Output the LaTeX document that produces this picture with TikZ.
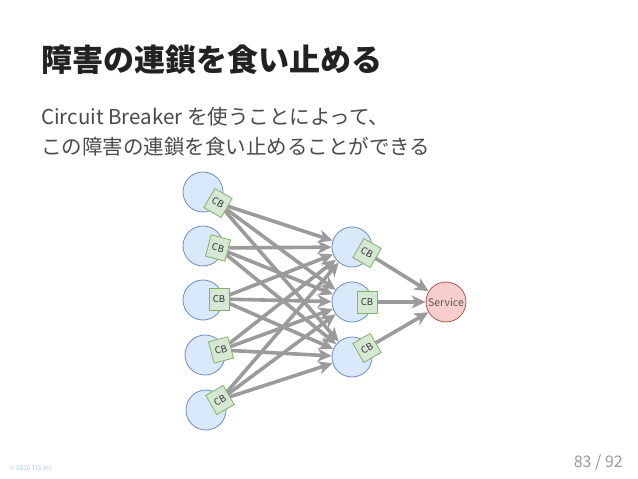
\documentclass[tikz,border=0pt]{standalone}
\usepackage{fontspec}
\setmainfont{Noto Sans CJK JP}
\usetikzlibrary{arrows.meta}
\definecolor{cfill}{HTML}{DAE8FC}
\definecolor{cdraw}{HTML}{6C8EBF}
\definecolor{bfill}{HTML}{D5E8D4}
\definecolor{bdraw}{HTML}{82B366}
\definecolor{sfill}{HTML}{F8CECC}
\definecolor{sdraw}{HTML}{B85450}
\definecolor{arr}{HTML}{9B9B9B}
\definecolor{titlec}{HTML}{222222}
\definecolor{bodyc}{HTML}{4A4A4A}
\definecolor{copyc}{HTML}{A6D2E2}
\definecolor{pagec}{HTML}{9A9A9A}
\tikzset{
  svcnode/.style={circle, draw=cdraw, fill=cfill, line width=0.8pt, minimum size=40pt, inner sep=0pt},
  cbbox/.style={rectangle, draw=bdraw, fill=bfill, line width=0.8pt, minimum width=20pt, minimum height=22pt, inner sep=0pt, font=\fontsize{9.5}{10}\selectfont, text=black!80},
  target/.style={circle, draw=sdraw, fill=sfill, line width=0.8pt, minimum size=40pt, inner sep=0pt, font=\fontsize{10.5}{11}\selectfont, text=black!65},
  link/.style={draw=arr, line width=3.6pt, -{Stealth[length=14pt, width=13pt, inset=4pt]}},
}
\begin{document}
\begin{tikzpicture}[x=1pt,y=-1pt]
\useasboundingbox[fill=white] (0,0) rectangle (638,479);
% texts
\node[anchor=base west, inner sep=0pt, text=titlec, font=\bfseries\fontsize{31}{31}\selectfont] (title) at (41,71) {障害の連鎖を食い止める};
\node[anchor=base west, inner sep=0pt, text=bodyc, font=\fontsize{20.5}{20.5}\selectfont] (line1) at (41,124) {Circuit Breaker を使うことによって、};
\node[anchor=base west, inner sep=0pt, text=bodyc, font=\fontsize{20.5}{20.5}\selectfont] (line2) at (41,154) {この障害の連鎖を食い止めることができる};
\node[anchor=west, inner sep=0pt, text=copyc, font=\fontsize{6.5}{7}\selectfont] (copy) at (9,468) {© 2016 TIS Inc.};
\node[anchor=base east, inner sep=0pt, text=pagec, font=\fontsize{16}{16}\selectfont] (page) at (623,467) {83 / 92};
% left services
\node[svcnode] (l1) at (203,192) {};
\node[svcnode] (l2) at (203,246) {};
\node[svcnode] (l3) at (203,300) {};
\node[svcnode] (l4) at (205,355) {};
\node[svcnode] (l5) at (206,410) {};
% middle services
\node[svcnode] (m1) at (352,247) {};
\node[svcnode] (m2) at (352,302) {};
\node[svcnode] (m3) at (352,357) {};
% target
\node[target] (s) at (446,302) {Service};
% circuit breakers
\node[cbbox, rotate=-30] (c1) at (218,203) {CB};
\node[cbbox, rotate=-15] (c2) at (218,248) {CB};
\node[cbbox] (c3) at (219,299) {CB};
\node[cbbox, rotate=15] (c4) at (221,350) {CB};
\node[cbbox, rotate=30] (c5) at (220,400) {CB};
\node[cbbox, rotate=-30] (d1) at (367,253) {CB};
\node[cbbox] (d2) at (367,302) {CB};
\node[cbbox, rotate=30] (d3) at (367,348) {CB};
% connectors
\foreach \a in {c1,c2,c3,c4,c5}{
  \foreach \b in {m1,m2,m3}{
    \draw[link] (\a) -- (\b);
  }
}
\foreach \a in {d1,d2,d3}{
  \draw[link] (\a) -- (s);
}
\end{tikzpicture}
\end{document}
